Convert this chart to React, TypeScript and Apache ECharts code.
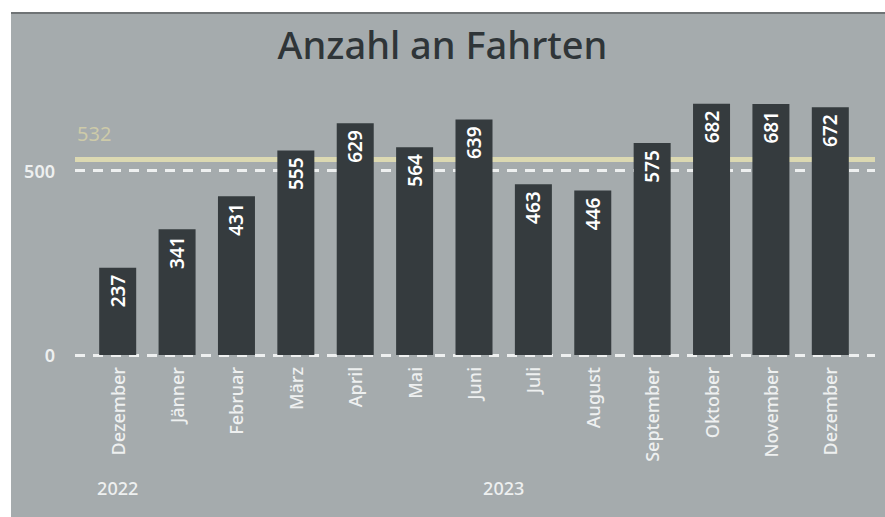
import React, { useEffect, useRef } from "react";
import * as echarts from "echarts";

const months = ["Dezember", "Jänner", "Februar", "März", "April", "Mai", "Juni", "Juli", "August", "September", "Oktober", "November", "Dezember"];
const rides = [237, 341, 431, 555, 629, 564, 639, 463, 446, 575, 682, 681, 672];
const yearGroups = [
  { year: "2022", first: 0, last: 0 },
  { year: "2023", first: 1, last: 12 },
];
const gridValues = [0, 500];
const referenceValue = 532;
const yMax = 700;
const titleText = "Anzahl an Fahrten";

const FONT = "'Noto Sans', 'Open Sans', sans-serif";

export default function App() {
  const ref = useRef<HTMLDivElement>(null);
  useEffect(() => {
    if (!ref.current) return;
    const chart = echarts.init(ref.current, null, { renderer: "svg" });
    const yearCenters = yearGroups.map((g) => (g.first + g.last) / 2);
    chart.setOption({
      animation: false,
      textStyle: { fontFamily: FONT },
      title: {
        text: titleText,
        left: "center",
        top: 20,
        textStyle: { fontFamily: FONT, fontSize: 38, fontWeight: 500, color: "#2f3538" },
      },
      grid: [
        { left: 88, right: 25, top: 97, bottom: 162 },
        { left: 75, right: 10, top: 97, bottom: 162 },
      ],
      xAxis: [
        {
          type: "category",
          gridIndex: 0,
          data: months,
          axisLine: { show: false },
          axisTick: { show: false },
          axisLabel: { rotate: 90, color: "#eef0f0", fontSize: 18, fontWeight: 500, margin: 12, fontFamily: FONT },
        },
        {
          type: "value",
          gridIndex: 1,
          min: 0,
          max: 1,
          show: false,
        },
        {
          type: "value",
          gridIndex: 0,
          position: "bottom",
          min: -0.5,
          max: 12.5,
          offset: 116,
          axisLine: { show: false },
          axisTick: { show: false },
          splitLine: { show: false },
          axisLabel: {
            customValues: yearCenters,
            formatter: (v: number) => {
              const i = yearCenters.indexOf(v);
              return i >= 0 ? yearGroups[i].year : "";
            },
            color: "#eef0f0",
            fontSize: 18,
            fontWeight: 500,
            fontFamily: FONT,
          },
        },
      ],
      yAxis: [
        { type: "value", gridIndex: 0, min: 0, max: yMax, show: false },
        {
          type: "value",
          gridIndex: 1,
          min: 0,
          max: yMax,
          interval: 500,
          axisLine: { show: false },
          axisTick: { show: false },
          splitLine: { show: false },
          axisLabel: { color: "#eef0f0", fontSize: 18, fontWeight: 600, margin: 20, showMaxLabel: false, fontFamily: FONT },
        },
      ],
      series: [
        {
          type: "line",
          xAxisIndex: 1,
          yAxisIndex: 1,
          data: [[0, 0], [1, 0]],
          symbol: "none",
          lineStyle: { opacity: 0 },
          silent: true,
          z: 1,
          markLine: {
            silent: true,
            symbol: "none",
            z: 1,
            data: [
              ...gridValues.map((v) => ({
                yAxis: v,
                lineStyle: { color: "#eef0f0", type: [10, 8], width: 3 },
                label: { show: false },
              })),
              {
                yAxis: referenceValue,
                lineStyle: { color: "#dcd9b2", type: "solid", width: 5 },
                label: {
                  show: true,
                  position: "insideStartTop",
                  distance: [2, 15],
                  formatter: String(referenceValue),
                  color: "#cdcaa9",
                  fontSize: 20,
                  fontFamily: FONT,
                },
              },
            ],
          },
        },
        {
          type: "bar",
          xAxisIndex: 0,
          yAxisIndex: 0,
          data: rides,
          barWidth: 37,
          z: 3,
          itemStyle: { color: "#353b3e" },
          label: {
            show: true,
            position: "insideTop",
            rotate: 90,
            align: "right",
            verticalAlign: "middle",
            distance: 7,
            color: "#ffffff",
            fontSize: 19,
            fontWeight: 600,
            fontFamily: FONT,
          },
        },
      ],
    });
    return () => chart.dispose();
  }, []);

  return (
    <div style={{ position: "fixed", left: 0, top: 0, width: 885, height: 517, background: "#ffffff", overflow: "hidden" }}>
      <div
        style={{
          position: "absolute",
          left: 11,
          top: 12,
          width: 874,
          height: 505,
          background: "#a5abad",
          borderTop: "2px solid #6f7375",
          boxSizing: "border-box",
        }}
      />
      <div ref={ref} style={{ position: "absolute", left: 0, top: 0, width: 885, height: 517 }} />
    </div>
  );
}
